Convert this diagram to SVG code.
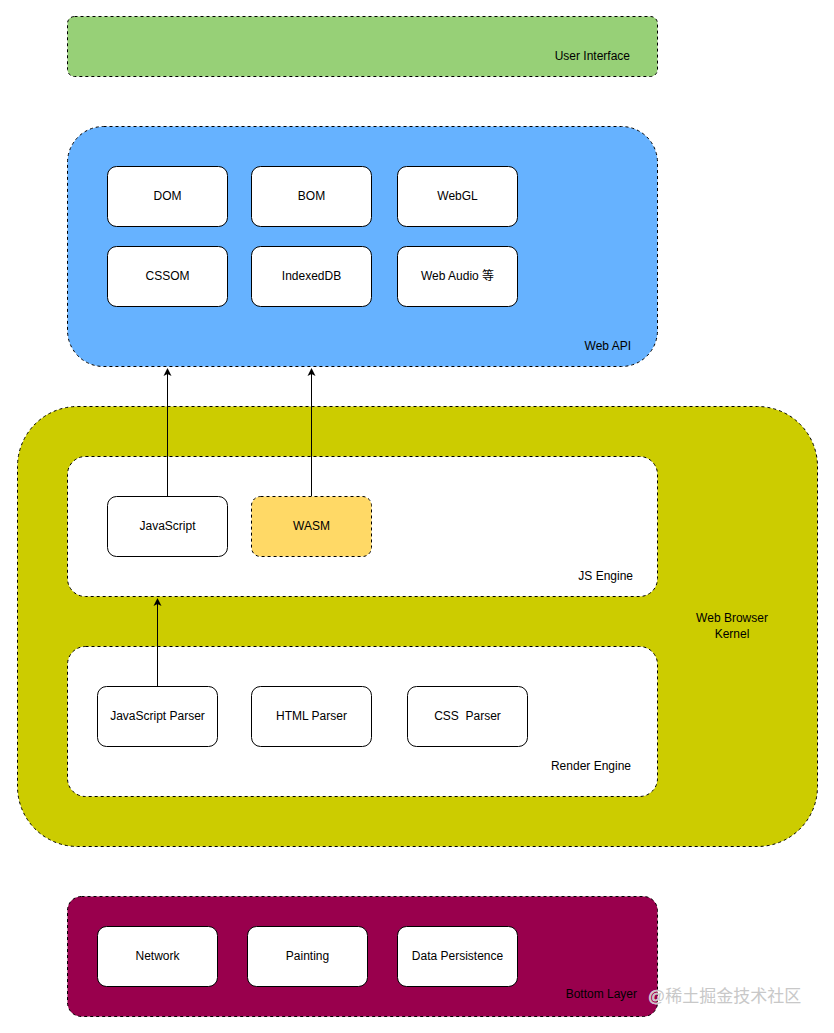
<svg xmlns="http://www.w3.org/2000/svg" width="834" height="1033" viewBox="0 0 834 1033">
<defs>
<style>
.c{stroke:#000;stroke-width:1;stroke-dasharray:3 3}
.b{fill:#fff;stroke:#000;stroke-width:1}
text{font-family:"Liberation Sans",Arial,"Noto Sans CJK SC",sans-serif;font-size:12px;fill:#000}
.m{text-anchor:middle;dominant-baseline:central}
.e{text-anchor:end}
.l{fill:none;stroke:#000;stroke-width:1}
</style>
<marker id="ar" markerWidth="10" markerHeight="10" refX="7" refY="5" orient="auto" markerUnits="userSpaceOnUse">
<path d="M0,1 L8,5 L0,9 L2,5 Z" fill="#000"/>
</marker>
</defs>
<rect width="834" height="1033" fill="#fff"/>

<g id="user-interface">
<rect class="c" x="67.5" y="16.5" width="590" height="60" rx="7" fill="#97D077"/>
<text x="630" y="60" class="e">User Interface</text>
</g>

<g id="web-api">
<rect class="c" x="67.5" y="126.5" width="590" height="240" rx="36" fill="#66B2FF"/>
<text x="631" y="350" class="e">Web API</text>
</g>
<g id="dom"><rect class="b" x="107.5" y="166.5" width="120" height="60" rx="9"/><text x="167.5" y="195.5" class="m">DOM</text></g>
<g id="bom"><rect class="b" x="251.5" y="166.5" width="120" height="60" rx="9"/><text x="311.5" y="195.5" class="m">BOM</text></g>
<g id="webgl"><rect class="b" x="397.5" y="166.5" width="120" height="60" rx="9"/><text x="457.5" y="195.5" class="m">WebGL</text></g>
<g id="cssom"><rect class="b" x="107.5" y="246.5" width="120" height="60" rx="9"/><text x="167.5" y="275.5" class="m">CSSOM</text></g>
<g id="indexeddb"><rect class="b" x="251.5" y="246.5" width="120" height="60" rx="9"/><text x="311.5" y="275.5" class="m">IndexedDB</text></g>
<g id="webaudio"><rect class="b" x="397.5" y="246.5" width="120" height="60" rx="9"/><text x="457.5" y="275.5" class="m">Web Audio 等</text></g>

<g id="kernel">
<rect class="c" x="17.5" y="406.5" width="800" height="440" rx="60" fill="#CCCC00"/>
<text x="732" y="622" text-anchor="middle">Web Browser</text>
<text x="732" y="638" text-anchor="middle">Kernel</text>
</g>

<g id="js-engine">
<rect class="c" x="67.5" y="456.5" width="590" height="140" rx="18" fill="#fff"/>
<text x="633" y="580" class="e">JS Engine</text>
</g>
<g id="javascript"><rect class="b" x="107.5" y="496.5" width="120" height="60" rx="9"/><text x="167.5" y="525.5" class="m">JavaScript</text></g>
<g id="wasm"><rect class="c" x="251.5" y="496.5" width="120" height="60" rx="9" fill="#FFD966"/><text x="311.5" y="525.5" class="m">WASM</text></g>

<g id="render-engine">
<rect class="c" x="67.5" y="646.5" width="590" height="150" rx="18" fill="#fff"/>
<text x="631" y="770" class="e">Render Engine</text>
</g>
<g id="js-parser"><rect class="b" x="97.5" y="686.5" width="120" height="60" rx="9"/><text x="157.5" y="715.5" class="m">JavaScript Parser</text></g>
<g id="html-parser"><rect class="b" x="251.5" y="686.5" width="120" height="60" rx="9"/><text x="311.5" y="715.5" class="m">HTML Parser</text></g>
<g id="css-parser"><rect class="b" x="407.5" y="686.5" width="120" height="60" rx="9"/><text x="467.5" y="715.5" class="m" xml:space="preserve">CSS  Parser</text></g>

<g id="bottom-layer">
<rect class="c" x="67.5" y="896.5" width="590" height="120" rx="14" fill="#99004D"/>
<text x="637" y="998" class="e">Bottom Layer</text>
</g>
<g id="network"><rect class="b" x="97.5" y="926.5" width="120" height="60" rx="9"/><text x="157.5" y="955.5" class="m">Network</text></g>
<g id="painting"><rect class="b" x="247.5" y="926.5" width="120" height="60" rx="9"/><text x="307.5" y="955.5" class="m">Painting</text></g>
<g id="data-persistence"><rect class="b" x="397.5" y="926.5" width="120" height="60" rx="9"/><text x="457.5" y="955.5" class="m">Data Persistence</text></g>

<g id="connectors">
<line class="l" x1="167.5" y1="496" x2="167.5" y2="369" marker-end="url(#ar)"/>
<line class="l" x1="311.5" y1="496" x2="311.5" y2="369" marker-end="url(#ar)"/>
<line class="l" x1="157.5" y1="686" x2="157.5" y2="599" marker-end="url(#ar)"/>
</g>

<text x="648" y="1002" style="font-size:17px;fill:#c8c8c8;stroke:#fff;stroke-width:0.6;paint-order:stroke">@稀土掘金技术社区</text>
</svg>
